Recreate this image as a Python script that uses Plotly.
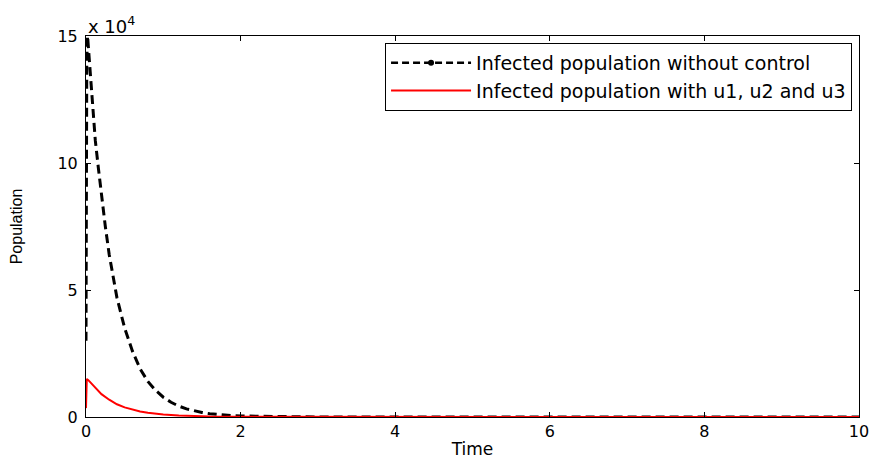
import plotly.graph_objects as go

# Time points and infected populations
t_no_control = [0, 0.005, 0.01, 0.02, 0.05, 0.08, 0.12, 0.16, 0.2, 0.25, 0.3, 0.35, 0.4,
                0.5, 0.6, 0.7, 0.8, 0.9, 1.0, 1.1, 1.2, 1.3, 1.4, 1.5, 1.6, 1.7, 1.8,
                1.9, 2.0, 3.0, 4.0, 6.0, 8.0, 10.0]
infected_no_control = [30000, 90000, 140000, 150000, 137000, 124000, 109000, 98000, 87000,
                       75000, 64000, 55000, 47000, 35000, 26000, 19000, 14000, 10500, 7800,
                       5800, 4300, 3200, 2400, 1800, 1300, 1000, 700, 500, 400, 0, 0, 0, 0, 0]

t_control = [0, 0.005, 0.01, 0.03, 0.06, 0.1, 0.15, 0.2, 0.3, 0.4, 0.5, 0.6, 0.7, 0.8,
             0.9, 1.0, 1.2, 1.4, 1.6, 2.0, 3.0, 4.0, 6.0, 8.0, 10.0]
infected_control = [3500, 10000, 15000, 14500, 13500, 12000, 10500, 9000, 6800, 5000, 3800,
                    2900, 2200, 1700, 1300, 1000, 600, 350, 200, 100, 0, 0, 0, 0, 0]

x_ticks = [0, 2, 4, 6, 8, 10]
y_tick_vals = [0, 50000, 100000, 150000]
y_tick_text = ["0", "5", "10", "15"]

name_no = "Infected population without control"
name_ctl = "Infected population with u1, u2 and u3"

FONT = "DejaVu Sans"

fig = go.Figure()
fig.add_trace(go.Scatter(x=t_no_control, y=infected_no_control, mode="lines",
                         line=dict(color="black", width=3, dash="9px,5px"),
                         showlegend=False))
fig.add_trace(go.Scatter(x=[None], y=[None], mode="lines+markers", name=name_no,
                         line=dict(color="black", width=2.5, dash="7px,4px"),
                         marker=dict(color="black", size=6)))
fig.add_trace(go.Scatter(x=t_control, y=infected_control, mode="lines", name=name_ctl,
                         line=dict(color="red", width=2)))

axis_common = dict(showline=True, linecolor="black", linewidth=1, mirror="ticks",
                   ticks="inside", ticklen=5, tickcolor="black", showgrid=False,
                   zeroline=False, automargin=False,
                   tickfont=dict(family=FONT, size=16, color="black"))

fig.update_xaxes(range=[0, 10], tickvals=x_ticks, ticklabelstandoff=0,
                 title=dict(text="Time", font=dict(family=FONT, size=17, color="black"),
                            standoff=2),
                 **axis_common)
fig.update_yaxes(range=[0, 150000], tickvals=y_tick_vals, ticklabelstandoff=4,
                 ticktext=y_tick_text,
                 title=dict(text="Population",
                            font=dict(family="Liberation Sans Narrow, Liberation Sans", size=16,
                                      color="black"),
                            standoff=30),
                 **axis_common)

fig.add_annotation(xref="paper", yref="paper", x=0, y=1, xanchor="left", yanchor="bottom",
                   yshift=-3, showarrow=False, text="x 10<sup>4</sup>",
                   font=dict(family=FONT, size=18, color="black"))

fig.update_layout(
    width=872, height=459,
    margin=dict(l=86, r=13, t=36, b=42),
    paper_bgcolor="white", plot_bgcolor="white",
    legend=dict(x=0.991, y=0.982, xanchor="right", yanchor="top",
                bordercolor="black", borderwidth=1, bgcolor="white",
                font=dict(family=FONT, size=19, color="black"),
                itemwidth=80, tracegroupgap=0),
)

fig.write_html("out.html")
